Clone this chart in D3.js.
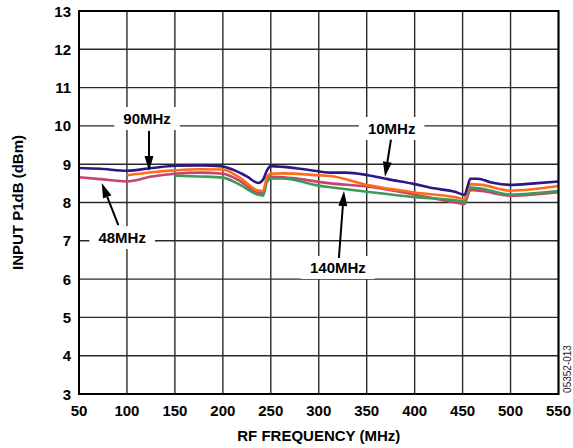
<!DOCTYPE html>
<html>
<head>
<meta charset="utf-8">
<script src="https://cdn.jsdelivr.net/npm/d3@7"></script>
<style>
  body { margin: 0; background: #fff; }
  svg text { font-family: Arial, "Liberation Sans", sans-serif; }
</style>
</head>
<body>
<svg width="573" height="448"></svg>
<script>
// x ticks (MHz) and y ticks (dBm)
const xTicks = [50, 100, 150, 200, 250, 300, 350, 400, 450, 500, 550];
const yTicks = [3, 4, 5, 6, 7, 8, 9, 10, 11, 12, 13];

// 10MHz curve
const freq10 = [50, 72, 100, 126, 150, 176, 200, 210, 225, 237, 242, 246, 250, 263, 290, 312, 328, 350, 372, 400, 420, 442, 452, 455, 458, 466, 480, 500, 525, 550];
const p1db10 = [8.90, 8.88, 8.83, 8.90, 8.96, 8.97, 8.94, 8.86, 8.68, 8.51, 8.60, 8.84, 8.95, 8.93, 8.85, 8.78, 8.78, 8.72, 8.61, 8.48, 8.37, 8.28, 8.20, 8.40, 8.62, 8.62, 8.52, 8.46, 8.50, 8.55];

// 48MHz curve
const freq48 = [50, 72, 100, 126, 150, 176, 200, 218, 237, 242, 246, 250, 263, 312, 350, 400, 442, 452, 455, 458, 470, 500, 550];
const p1db48 = [8.66, 8.61, 8.55, 8.68, 8.75, 8.78, 8.75, 8.56, 8.25, 8.25, 8.60, 8.67, 8.66, 8.50, 8.42, 8.21, 8.00, 7.96, 8.15, 8.33, 8.30, 8.18, 8.27];

// 90MHz curve
const freq90 = [100, 126, 150, 176, 200, 218, 237, 242, 246, 250, 263, 300, 312, 350, 400, 442, 452, 455, 458, 470, 500, 550];
const p1db90 = [8.71, 8.79, 8.84, 8.87, 8.86, 8.64, 8.31, 8.30, 8.66, 8.75, 8.76, 8.71, 8.69, 8.46, 8.26, 8.14, 8.09, 8.30, 8.48, 8.46, 8.31, 8.43];

// 140MHz curve
const freq140 = [150, 176, 200, 218, 237, 242, 246, 250, 263, 300, 312, 350, 400, 442, 452, 455, 458, 470, 500, 550];
const p1db140 = [8.70, 8.68, 8.65, 8.46, 8.20, 8.18, 8.54, 8.63, 8.63, 8.44, 8.40, 8.28, 8.14, 8.06, 8.02, 8.20, 8.39, 8.36, 8.21, 8.30];

const seriesNames = ["48MHz", "140MHz", "90MHz", "10MHz"];
const seriesColors = ["#c8436e", "#3f9a55", "#ff6b17", "#2c1785"];

// callouts: label, label position (MHz, dBm), arrow start, arrow tip
const labelNames = ["90MHz", "48MHz", "10MHz", "140MHz"];
const labelPos = [[121, 10.05], [95, 6.94], [376, 9.79], [320, 6.16]];
const arrowFrom = [[123, 9.87], [91, 7.41], [375.3, 9.64], [321, 6.55]];
const arrowTo = [[123, 8.82], [73.7, 8.51], [369.1, 8.67], [326.3, 8.30]];

const svg = d3.select("svg");
const margin = { left: 79, right: 14.5, top: 11, bottom: 54 };
const W = 573, H = 448;

const x = d3.scaleLinear().domain([50, 550]).range([margin.left, W - margin.right]);
const y = d3.scaleLinear().domain([3, 13]).range([H - margin.bottom, margin.top]);

// grid
svg.append("g").selectAll("line").data(xTicks).enter().append("line")
  .attr("x1", d => x(d)).attr("x2", d => x(d))
  .attr("y1", y(3)).attr("y2", y(13))
  .attr("stroke", "#2a2a2a").attr("stroke-width", 1.4);
svg.append("g").selectAll("line").data(yTicks).enter().append("line")
  .attr("x1", x(50)).attr("x2", x(550))
  .attr("y1", d => y(d)).attr("y2", d => y(d))
  .attr("stroke", "#2a2a2a").attr("stroke-width", 1.4);

// white boxes behind callout labels (drawn over grid)
const labelG = svg.append("g");

// curves
const allData = [
  freq48.map((f, i) => [f, p1db48[i]]),
  freq140.map((f, i) => [f, p1db140[i]]),
  freq90.map((f, i) => [f, p1db90[i]]),
  freq10.map((f, i) => [f, p1db10[i]])
];
const line = d3.line().x(d => x(d[0])).y(d => y(d[1])).curve(d3.curveMonotoneX);
svg.append("g").selectAll("path").data(allData).enter().append("path")
  .attr("d", line)
  .attr("fill", "none")
  .attr("stroke", (d, i) => seriesColors[i])
  .attr("stroke-width", 2.6)
  .attr("stroke-linejoin", "round");

// frame
svg.append("rect")
  .attr("x", x(50)).attr("y", y(13))
  .attr("width", x(550) - x(50)).attr("height", y(3) - y(13))
  .attr("fill", "none").attr("stroke", "#000").attr("stroke-width", 2);

// callout labels
labelNames.forEach((name, i) => {
  const t = labelG.append("text")
    .attr("x", x(labelPos[i][0])).attr("y", y(labelPos[i][1]))
    .attr("text-anchor", "middle")
    .attr("font-size", 15).attr("font-weight", "bold")
    .text(name);
  const b = t.node().getBBox();
  labelG.insert("rect", "text")
    .attr("x", b.x - 9).attr("y", b.y - 3)
    .attr("width", b.width + 18).attr("height", b.height + 6)
    .attr("fill", "#fff");
});

// arrows
const arrowG = svg.append("g");
labelNames.forEach((name, i) => {
  const x0 = x(arrowFrom[i][0]), y0 = y(arrowFrom[i][1]);
  const x1 = x(arrowTo[i][0]), y1 = y(arrowTo[i][1]);
  const ang = Math.atan2(y1 - y0, x1 - x0);
  const len = 15, hw = 4.5;
  const bx = x1 - len * Math.cos(ang), by = y1 - len * Math.sin(ang);
  arrowG.append("line")
    .attr("x1", x0).attr("y1", y0).attr("x2", bx).attr("y2", by)
    .attr("stroke", "#000").attr("stroke-width", 2);
  const px = -Math.sin(ang) * hw, py = Math.cos(ang) * hw;
  arrowG.append("path")
    .attr("d", `M${x1},${y1}L${bx + px},${by + py}L${bx - px},${by - py}Z`)
    .attr("fill", "#000");
});

// tick labels
svg.append("g").selectAll("text").data(xTicks).enter().append("text")
  .attr("x", d => x(d)).attr("y", y(3) + 22)
  .attr("text-anchor", "middle")
  .attr("font-size", 15).attr("font-weight", "bold")
  .text(d => d);
svg.append("g").selectAll("text").data(yTicks).enter().append("text")
  .attr("x", x(50) - 8).attr("y", d => y(d) + 5.5)
  .attr("text-anchor", "end")
  .attr("font-size", 15).attr("font-weight", "bold")
  .text(d => d);

// axis titles
svg.append("text")
  .attr("x", (x(50) + x(550)) / 2).attr("y", 441)
  .attr("text-anchor", "middle")
  .attr("font-size", 15).attr("font-weight", "bold")
  .text("RF FREQUENCY (MHz)");
svg.append("text")
  .attr("transform", `translate(23,${(y(3) + y(13)) / 2}) rotate(-90)`)
  .attr("text-anchor", "middle")
  .attr("font-size", 15).attr("font-weight", "bold")
  .text("INPUT P1dB (dBm)");

svg.append("text")
  .attr("transform", `translate(571,369) rotate(-90)`)
  .attr("text-anchor", "middle")
  .attr("font-size", 10).attr("fill", "#222")
  .text("05352-013");
</script>
</body>
</html>
